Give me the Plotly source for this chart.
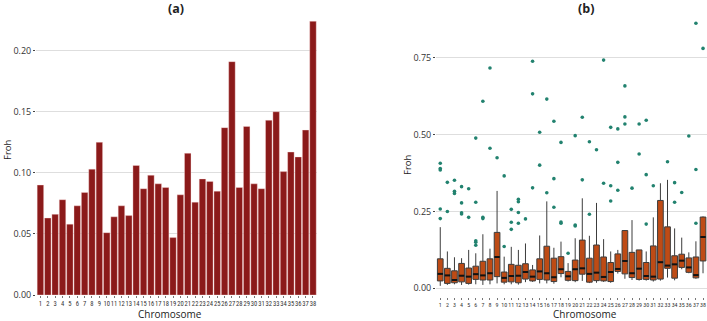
import plotly.graph_objects as go

# ---------------- data ----------------
chromosomes = list(range(1, 39))
tick_labels = [str(c) for c in chromosomes]

# (a) mean Froh per chromosome
froh_mean = [0.090, 0.063, 0.066, 0.078, 0.058, 0.073, 0.084, 0.103, 0.125, 0.051,
             0.064, 0.073, 0.065, 0.106, 0.087, 0.098, 0.091, 0.088, 0.047, 0.082,
             0.116, 0.076, 0.095, 0.093, 0.085, 0.137, 0.191, 0.088, 0.138, 0.091,
             0.087, 0.143, 0.150, 0.101, 0.117, 0.113, 0.135, 0.224]

# (b) box statistics per chromosome
box_upper = [0.199, 0.120, 0.101, 0.098, 0.125, 0.114, 0.176, 0.129, 0.317, 0.103,
             0.135, 0.125, 0.146, 0.076, 0.172, 0.283, 0.132, 0.152, 0.082, 0.163,
             0.293, 0.171, 0.278, 0.160, 0.120, 0.125, 0.189, 0.222, 0.125, 0.120,
             0.231, 0.342, 0.353, 0.195, 0.165, 0.117, 0.153, 0.234]
box_q3 = [0.096, 0.065, 0.057, 0.081, 0.066, 0.072, 0.088, 0.096, 0.182, 0.053,
          0.078, 0.075, 0.080, 0.060, 0.096, 0.137, 0.098, 0.103, 0.055, 0.092,
          0.157, 0.098, 0.141, 0.102, 0.084, 0.112, 0.188, 0.117, 0.125, 0.084,
          0.138, 0.286, 0.200, 0.106, 0.111, 0.099, 0.102, 0.232]
box_median = [0.047, 0.042, 0.027, 0.041, 0.038, 0.046, 0.042, 0.049, 0.102, 0.034,
              0.040, 0.041, 0.053, 0.038, 0.055, 0.049, 0.036, 0.062, 0.039, 0.062,
              0.065, 0.047, 0.051, 0.037, 0.053, 0.063, 0.089, 0.049, 0.064, 0.040,
              0.038, 0.085, 0.074, 0.078, 0.090, 0.068, 0.043, 0.167]
box_q1 = [0.024, 0.016, 0.018, 0.021, 0.016, 0.029, 0.027, 0.027, 0.038, 0.020,
          0.021, 0.018, 0.030, 0.024, 0.029, 0.027, 0.022, 0.048, 0.026, 0.025,
          0.046, 0.020, 0.025, 0.024, 0.022, 0.055, 0.047, 0.035, 0.029, 0.029,
          0.027, 0.030, 0.065, 0.033, 0.068, 0.052, 0.034, 0.089]
box_lower = [0.008, 0.011, 0.013, 0.011, 0.012, 0.013, 0.011, 0.013, 0.016, 0.013,
             0.013, 0.012, 0.020, 0.021, 0.016, 0.016, 0.015, 0.036, 0.022, 0.020,
             0.024, 0.017, 0.018, 0.021, 0.018, 0.048, 0.031, 0.027, 0.025, 0.025,
             0.022, 0.025, 0.035, 0.026, 0.062, 0.049, 0.031, 0.049]

# (b) outliers
outlier_chr = [1, 1, 1, 1, 1, 2, 2, 3, 3, 3, 4, 4, 4, 4, 5, 5, 6, 6, 6, 6, 6,
               7, 7, 7, 8, 8, 9, 10, 10, 11, 11, 11, 12, 12, 12, 12, 13,
               14, 14, 14, 15, 15, 16, 16, 17, 17, 17, 18, 18, 18, 19,
               20, 20, 20, 21, 21, 22, 22, 23, 24, 24, 25, 25, 25, 26, 26, 26,
               27, 27, 27, 28, 29, 29, 30, 30, 30, 31, 33, 34, 34, 35, 36,
               37, 37, 37, 38]
outlier_froh = [0.407, 0.390, 0.385, 0.258, 0.227, 0.345, 0.250, 0.352, 0.316, 0.309,
                0.331, 0.278, 0.246, 0.242, 0.324, 0.231, 0.489, 0.280, 0.155, 0.150, 0.140,
                0.609, 0.231, 0.227, 0.717, 0.456, 0.425, 0.366, 0.136, 0.257, 0.215, 0.192,
                0.290, 0.282, 0.247, 0.212, 0.226,
                0.739, 0.633, 0.327, 0.508, 0.401, 0.616, 0.311, 0.544, 0.357, 0.264,
                0.475, 0.216, 0.212, 0.114,
                0.497, 0.206, 0.203, 0.557, 0.353, 0.477, 0.241, 0.451, 0.743, 0.342,
                0.524, 0.334, 0.284, 0.519, 0.410, 0.319,
                0.659, 0.558, 0.535, 0.326, 0.535, 0.437, 0.547, 0.370, 0.209, 0.334,
                0.412, 0.344, 0.280, 0.312, 0.496,
                0.863, 0.387, 0.212, 0.781]

# ---------------- styling ----------------
W, H = 707, 321
BAR_COLOR = "#8B1A1A"
BOX_FILL = "#BE4B15"
BOX_LINE = "#3c3c3c"
OUT_COLOR = "#22826f"
GRID = "#dedede"
FONT = "Open Sans, Liberation Sans, sans-serif"
TICKFONT = "Liberation Sans Narrow, Roboto Condensed, Liberation Sans, sans-serif"

def px_x(p):
    return p / W

def px_y(p):
    return 1 - p / H

fig = go.Figure()

fig.add_trace(go.Bar(
    x=chromosomes, y=froh_mean, marker=dict(color=BAR_COLOR,
                                            line=dict(color="rgba(255,225,225,0.6)", width=0.6)),
    xaxis="x", yaxis="y", showlegend=False, width=0.88))

fig.add_trace(go.Box(
    x=chromosomes, q1=box_q1, median=box_median, q3=box_q3,
    lowerfence=box_lower, upperfence=box_upper, boxpoints=False,
    fillcolor=BOX_FILL, line=dict(color=BOX_LINE, width=1), width=0.8,
    whiskerwidth=0, xaxis="x2", yaxis="y2", showlegend=False))

# thicker median bars drawn from the median data
mx, my = [], []
for c, m in zip(chromosomes, box_median):
    mx += [c - 0.38, c + 0.38, None]
    my += [m, m, None]
fig.add_trace(go.Scatter(x=mx, y=my, mode="lines", line=dict(color="#111111", width=2),
                         xaxis="x2", yaxis="y2", showlegend=False, hoverinfo="skip"))

fig.add_trace(go.Scatter(
    x=outlier_chr, y=outlier_froh, mode="markers",
    marker=dict(color=OUT_COLOR, size=3.6), xaxis="x2", yaxis="y2", showlegend=False))

xcommon = dict(tickmode="array", tickvals=chromosomes, ticktext=tick_labels,
               ticks="outside", ticklen=2, tickwidth=1, tickcolor="#777",
               showgrid=False, zeroline=False, showline=False, tickangle=0,
               automargin=False)
ycommon = dict(ticks="outside", ticklen=2, tickwidth=1, tickcolor="#444",
               tickfont=dict(family=FONT, size=9, color="#333"),
               showgrid=True, gridcolor=GRID, gridwidth=1.3, zeroline=False,
               showline=False, tickformat=".2f", automargin=False)

fig.update_layout(
    xaxis=dict(domain=[px_x(36.0), px_x(317.4)], range=[0.4, 38.6], anchor="y",
               tickfont=dict(family=TICKFONT, size=6.6, color="#333"), **xcommon),
    yaxis=dict(domain=[px_y(295), px_y(20)], range=[0, 0.2251], anchor="x",
               tickvals=[0, 0.05, 0.10, 0.15, 0.20], **ycommon),
    xaxis2=dict(domain=[px_x(436.0), 1.0], range=[0.4, 38.56], anchor="y2",
                tickfont=dict(family=TICKFONT, size=6.0, color="#333"), **xcommon),
    yaxis2=dict(domain=[px_y(297), px_y(14)], range=[-0.0283, 0.893], anchor="x2",
                tickvals=[0, 0.25, 0.50, 0.75], **ycommon),
    width=W, height=H, margin=dict(l=0, r=0, t=0, b=0, pad=0, autoexpand=False),
    plot_bgcolor="white", paper_bgcolor="white", bargap=0.12,
)

ann = []
def add_text(x, y, text, size, angle=0):
    ann.append(dict(x=px_x(x), y=px_y(y), xref="paper", yref="paper", text=text,
                    showarrow=False, textangle=angle, xanchor="center", yanchor="middle",
                    font=dict(family=FONT, size=size, color="#222")))

add_text(176, 8, "<b>(a)</b>", 12.5)
add_text(586, 8, "<b>(b)</b>", 12.5)
add_text(170, 314, "Chromosome", 10)
add_text(585, 314, "Chromosome", 10)
add_text(7, 150, "Froh", 9.5, angle=-90)
add_text(408, 165, "Froh", 9.5, angle=-90)
fig.update_layout(annotations=ann)

fig.write_html("out.html", config={"displayModeBar": False},
               post_script="document.body.style.margin='0px';document.body.style.overflow='hidden';")
